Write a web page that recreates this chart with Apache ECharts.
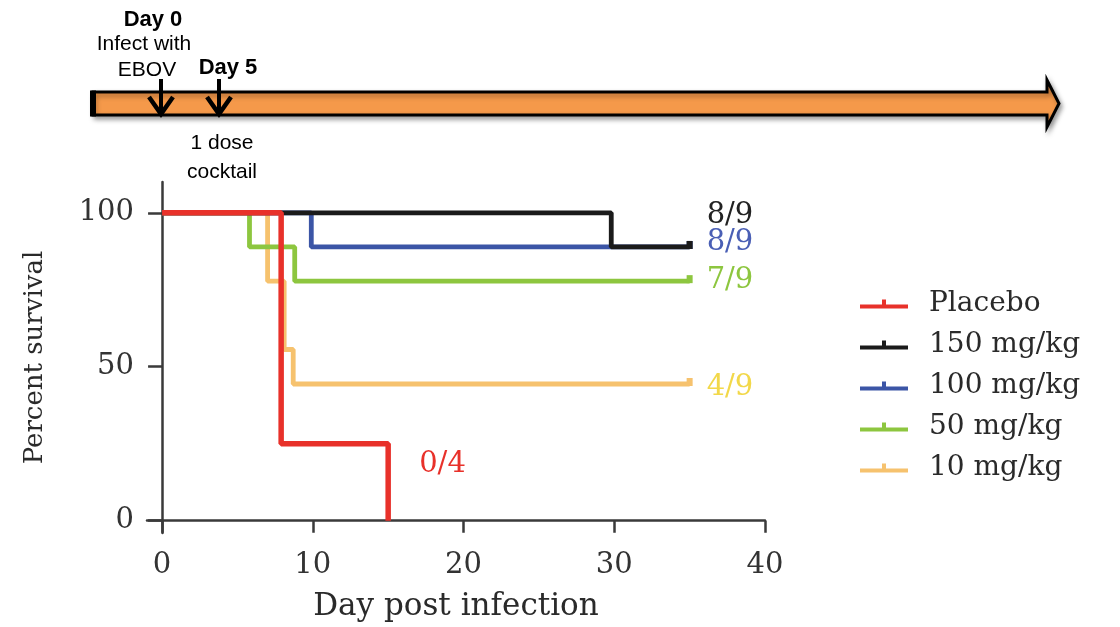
<!DOCTYPE html>
<html>
<head>
<meta charset="utf-8">
<script src="https://cdn.jsdelivr.net/npm/echarts@6/dist/echarts.min.js"></script>
<style>
html,body{margin:0;padding:0;background:#fff;}
#chart{width:1120px;height:627px;}
</style>
</head>
<body>
<div id="chart"></div>
<script>
// ---- data ----
const seriesNames = ['Placebo', '150 mg/kg', '100 mg/kg', '50 mg/kg', '10 mg/kg'];
const placeboDays = [0, 7.9, 15];
const placeboSurv = [100, 25, 0];
const mg150Days = [0, 29.8, 35];
const mg150Surv = [100, 88.9, 88.9];
const mg100Days = [0, 9.9, 35];
const mg100Surv = [100, 88.9, 88.9];
const mg50Days = [0, 5.8, 8.8, 35];
const mg50Surv = [100, 88.9, 77.8, 77.8];
const mg10Days = [0, 7, 8.1, 8.7, 35];
const mg10Surv = [100, 77.8, 55.6, 44.4, 44.4];
const endLabels = ['0/4', '8/9', '8/9', '7/9', '4/9'];
const xTicks = [0, 10, 20, 30, 40];
const yTicks = [0, 50, 100];

const colors = ['#e8312a', '#1b1b1b', '#3b55a6', '#8dc63f', '#f6c26e'];
const labelColors = ['#e8312a', '#222222', '#4a5fb5', '#8dc63f', '#f2d84a'];
const labelOffsets = [[26, -56], [12, -31], [12, -4], [12, -1], [12, 3]];

function pairs(xs, ys, censor) {
  return xs.map((x, i) => {
    const item = { value: [x, ys[i]] };
    if (censor && i === xs.length - 1) {
      item.symbol = 'rect';
      item.symbolSize = [6, 8];
      item.symbolOffset = [0, -2];
    }
    return item;
  });
}

const allDays = [placeboDays, mg150Days, mg100Days, mg50Days, mg10Days];
const allSurv = [placeboSurv, mg150Surv, mg100Surv, mg50Surv, mg10Surv];

const serif = 'DejaVu Serif';
const sans = 'Liberation Sans';

const series = [];
// draw order: 10, 50, 100, 150, placebo (placebo on top)
[4, 3, 2, 1, 0].forEach(i => {
  series.push({
    name: seriesNames[i],
    type: 'line',
    step: 'end',
    symbol: 'none',
    showSymbol: true,
    data: pairs(allDays[i], allSurv[i], i !== 0),
    lineStyle: { color: colors[i], width: i === 0 ? 5.5 : 4.8, cap: 'butt' },
    itemStyle: { color: colors[i] },
    z: 2 + (4 - i),
    emphasis: { disabled: true },
    endLabel: {
      show: true,
      formatter: endLabels[i],
      color: labelColors[i],
      fontFamily: serif,
      fontSize: 29,
      distance: 5,
      offset: labelOffsets[i]
    }
  });
});

const chart = echarts.init(document.getElementById('chart'), null, { renderer: 'canvas' });

const arrowShadow = { shadowBlur: 5, shadowOffsetX: 2, shadowOffsetY: 3, shadowColor: 'rgba(0,0,0,0.35)' };

function downArrow(cx) {
  return [
    { type: 'line', shape: { x1: cx, y1: 79, x2: cx, y2: 112 }, style: { stroke: '#000', lineWidth: 4 }, z: 20 },
    { type: 'polyline', shape: { points: [[cx - 12, 97], [cx, 114], [cx + 12, 97]] }, style: { stroke: '#000', lineWidth: 4.5, fill: null, lineJoin: 'miter' }, z: 20 }
  ];
}

const graphics = [
  { type: 'polygon', shape: { points: [[93, 92], [1047, 92], [1047, 80], [1059, 103.5], [1047, 127], [1047, 115], [93, 115]] },
    style: Object.assign({ fill: '#f5994a', stroke: '#000', lineWidth: 3, lineJoin: 'miter' }, arrowShadow), z: 10 },
  { type: 'rect', shape: { x: 90, y: 90.5, width: 6, height: 26 }, style: { fill: '#000' }, z: 11 },
  ...downArrow(161),
  ...downArrow(219),
  { type: 'text', style: { text: 'Day 0', x: 153, y: 20, align: 'center', verticalAlign: 'middle', font: 'bold 22px ' + sans, fill: '#000' }, z: 20 },
  { type: 'text', style: { text: 'Infect with', x: 144, y: 44, align: 'center', verticalAlign: 'middle', font: '21px ' + sans, fill: '#000' }, z: 20 },
  { type: 'text', style: { text: 'EBOV', x: 147, y: 70, align: 'center', verticalAlign: 'middle', font: '21px ' + sans, fill: '#000' }, z: 20 },
  { type: 'text', style: { text: 'Day 5', x: 228, y: 68, align: 'center', verticalAlign: 'middle', font: 'bold 22px ' + sans, fill: '#000' }, z: 20 },
  { type: 'text', style: { text: '1 dose', x: 222, y: 143, align: 'center', verticalAlign: 'middle', font: '21px ' + sans, fill: '#000' }, z: 20 },
  { type: 'text', style: { text: 'cocktail', x: 222, y: 172, align: 'center', verticalAlign: 'middle', font: '21px ' + sans, fill: '#000' }, z: 20 }
];

const axisColor = '#3a3a3a';

chart.setOption({
  animation: false,
  backgroundColor: '#ffffff',
  grid: { left: 147, right: 355, top: 182, bottom: 94, containLabel: false, outerBoundsMode: 'none' },
  xAxis: {
    type: 'value',
    min: -1, max: 40,
    name: 'Day post infection',
    nameLocation: 'middle',
    nameGap: 58,
    nameTextStyle: { fontFamily: serif, fontSize: 31, color: '#2a2a2a' },
    axisLine: { show: true, onZero: true, lineStyle: { color: axisColor, width: 2.5 } },
    axisTick: { show: true, length: 12, customValues: xTicks, lineStyle: { color: axisColor, width: 2.5 } },
    axisLabel: { customValues: xTicks, margin: 18, fontFamily: serif, fontSize: 29, color: '#333' },
    splitLine: { show: false }
  },
  yAxis: {
    type: 'value',
    min: -4, max: 110,
    name: 'Percent survival',
    nameLocation: 'middle',
    nameGap: 99,
    nameRotate: 90,
    nameTextStyle: { fontFamily: serif, fontSize: 26, color: '#2a2a2a' },
    axisLine: { show: true, onZero: true, lineStyle: { color: axisColor, width: 2.5 } },
    axisTick: { show: true, length: 14, customValues: yTicks, lineStyle: { color: axisColor, width: 2.5 } },
    axisLabel: { customValues: yTicks, margin: 13, fontFamily: serif, fontSize: 29, color: '#333' },
    splitLine: { show: false }
  },
  legend: {
    orient: 'vertical',
    left: 855,
    top: 284,
    itemWidth: 48,
    itemHeight: 10,
    itemGap: 11,
    icon: 'path://M0,6 L48,6 L48,10 L0,10 Z M22,1 L26,1 L26,6 L22,6 Z',
    data: seriesNames,
    textStyle: { fontFamily: serif, fontSize: 28, color: '#2a2a2a', lineHeight: 30, padding: [0, 0, 0, 16] },
    selectedMode: false
  },
  series: series,
  graphic: graphics
});
</script>
</body>
</html>
